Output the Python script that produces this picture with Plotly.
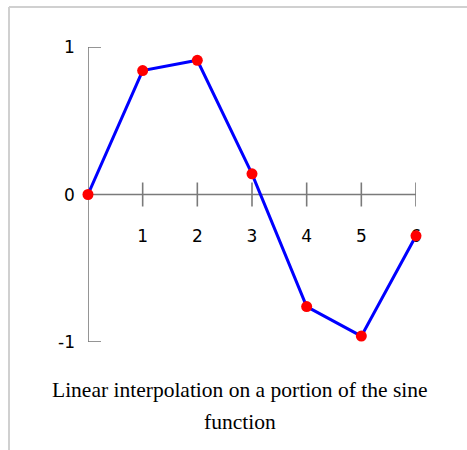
import plotly.graph_objects as go

x_vals = [0, 1, 2, 3, 4, 5, 6]
y_vals = [0.0, 0.84, 0.91, 0.14, -0.76, -0.96, -0.28]
x_ticks = [1, 2, 3, 4, 5, 6]
y_ticks = [1, 0, -1]
y_tick_labels = ["1", "0", "-1"]
caption_lines = ["Linear interpolation on a portion of the sine", "function"]

W, H = 467, 450
L, R, T, B = 88, 51, 47, 108
pw, ph = W - L - R, H - T - B

def px_x(p):
    return (p - L) / pw

def px_y(p):
    return (H - B - p) / ph

axis_color = "#7a7a7a"
fig = go.Figure()
fig.add_trace(go.Scatter(
    x=x_vals, y=y_vals, mode="lines+markers",
    line=dict(color="#0000ff", width=3),
    marker=dict(color="#ff0000", size=11),
    cliponaxis=False, showlegend=False, hoverinfo="skip",
))

shapes = []
shapes.append(dict(type="line", xref="x", yref="y", x0=0, x1=0, y0=min(y_ticks), y1=max(y_ticks),
                   line=dict(color=axis_color, width=1.6), layer="below"))
for t in y_ticks:
    if t == 0:
        continue
    shapes.append(dict(type="line", xref="x", yref="y", xsizemode="pixel", xanchor=0,
                       x0=0, x1=13, y0=t, y1=t, line=dict(color=axis_color, width=1.6), layer="below"))
shapes.append(dict(type="line", xref="x", yref="y", x0=0, x1=max(x_ticks), y0=0, y1=0,
                   line=dict(color=axis_color, width=1.6), layer="below"))
for t in x_ticks:
    shapes.append(dict(type="line", xref="x", yref="y", ysizemode="pixel", yanchor=0,
                       x0=t, x1=t, y0=-12, y1=12, line=dict(color=axis_color, width=1.6), layer="below"))
shapes.append(dict(type="line", xref="paper", yref="paper", x0=px_x(9), x1=px_x(W + 5),
                   y0=px_y(7), y1=px_y(7), line=dict(color="#d0d0d0", width=2)))
shapes.append(dict(type="line", xref="paper", yref="paper", x0=px_x(9), x1=px_x(9),
                   y0=px_y(7), y1=px_y(H + 5), line=dict(color="#d0d0d0", width=2)))

annotations = []
for t, lab in zip(y_ticks, y_tick_labels):
    annotations.append(dict(x=0, y=t, xref="x", yref="y", text=lab, showarrow=False,
                            xanchor="right", yanchor="middle", xshift=-11,
                            font=dict(family="DejaVu Sans", size=17, color="black")))
caption_y = [390, 422]
for line_text, cy in zip(caption_lines, caption_y):
    annotations.append(dict(x=px_x(240), y=px_y(cy), xref="paper", yref="paper", text=line_text,
                            showarrow=False, xanchor="center", yanchor="middle",
                            font=dict(family="Liberation Serif", size=21.5, color="black")))

fig.update_layout(
    width=W, height=H,
    margin=dict(l=L, r=R, t=T, b=B, pad=0),
    paper_bgcolor="white", plot_bgcolor="white",
    xaxis=dict(range=[0, 6], showgrid=False, zeroline=False, showline=False,
               tickvals=x_ticks, ticktext=[str(t) for t in x_ticks],
               anchor="free", position=0.5, ticks="", ticklabelstandoff=29,
               layer="below traces",
               tickfont=dict(family="DejaVu Sans", size=17, color="black")),
    yaxis=dict(range=[-1, 1], showgrid=False, zeroline=False, showline=False,
               showticklabels=False, ticks=""),
    shapes=shapes, annotations=annotations,
)
fig.write_html("out.html", config={"displayModeBar": False},
               post_script="document.body.style.margin='0';")
